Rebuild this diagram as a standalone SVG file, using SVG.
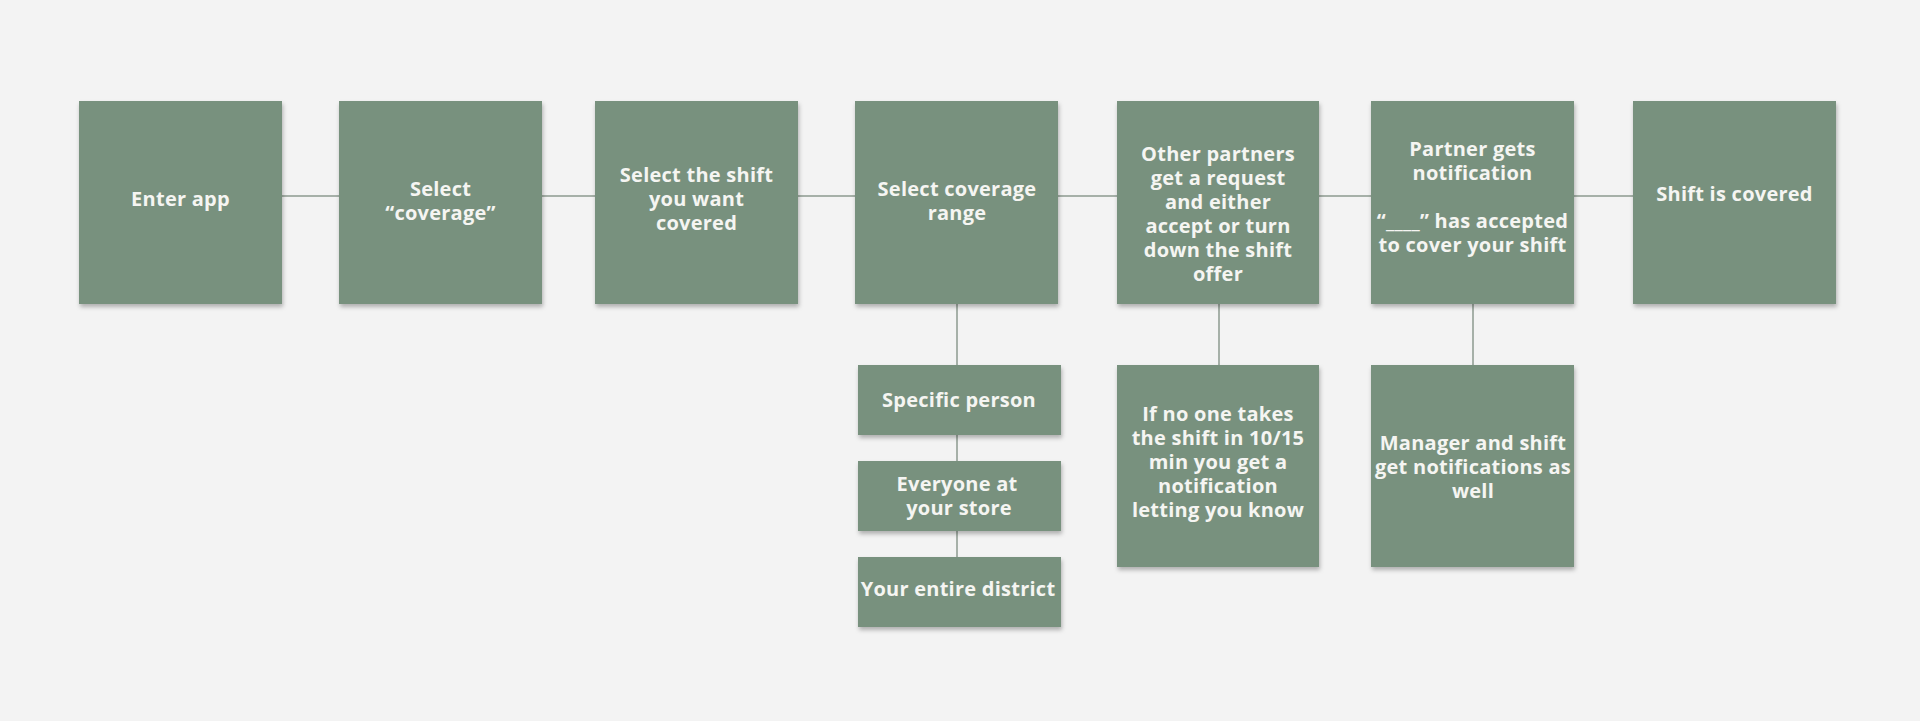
<svg xmlns="http://www.w3.org/2000/svg" width="1920" height="721" viewBox="0 0 1920 721">
<defs>
<filter id="sh" x="-10%" y="-10%" width="130%" height="130%">
<feDropShadow dx="1" dy="3" stdDeviation="2" flood-color="#000" flood-opacity="0.28"/>
</filter>
<style>
.box{fill:#78917e;filter:url(#sh);}
.t{font-family:"Open Sans","Liberation Sans",sans-serif;font-weight:700;font-size:20px;letter-spacing:0.25px;fill:#f5f5f2;text-anchor:middle;}
.c{stroke:#8c9a8f;stroke-width:1.5;fill:none;}
</style>
</defs>
<rect width="1920" height="721" fill="#f3f3f3"/>
<g id="connectors">
<line class="c" x1="282" y1="196" x2="339" y2="196"/>
<line class="c" x1="542" y1="196" x2="595" y2="196"/>
<line class="c" x1="798" y1="196" x2="855" y2="196"/>
<line class="c" x1="1058" y1="196" x2="1117" y2="196"/>
<line class="c" x1="1319" y1="196" x2="1371" y2="196"/>
<line class="c" x1="1574" y1="196" x2="1633" y2="196"/>
<line class="c" x1="957" y1="304" x2="957" y2="365"/>
<line class="c" x1="957" y1="435" x2="957" y2="461"/>
<line class="c" x1="957" y1="531" x2="957" y2="557"/>
<line class="c" x1="1219" y1="304" x2="1219" y2="365"/>
<line class="c" x1="1473" y1="304" x2="1473" y2="365"/>
</g>
<g id="n1"><rect class="box" x="79" y="101" width="203" height="203"/>
<text class="t" x="180.5" y="205.5">Enter app</text></g>
<g id="n2"><rect class="box" x="339" y="101" width="203" height="203"/>
<text class="t" x="440.5" y="195.5">Select</text><text class="t" x="440.5" y="219.5">“coverage”</text></g>
<g id="n3"><rect class="box" x="595" y="101" width="203" height="203"/>
<text class="t" x="696.5" y="181.5">Select the shift</text><text class="t" x="696.5" y="205.5">you want</text><text class="t" x="696.5" y="229.5">covered</text></g>
<g id="n4"><rect class="box" x="855" y="101" width="203" height="203"/>
<text class="t" x="957" y="196">Select coverage</text><text class="t" x="957" y="220">range</text></g>
<g id="n5"><rect class="box" x="1117" y="101" width="202" height="203"/>
<text class="t" x="1218" y="161">Other partners</text><text class="t" x="1218" y="185">get a request</text><text class="t" x="1218" y="209">and either</text><text class="t" x="1218" y="233">accept or turn</text><text class="t" x="1218" y="257">down the shift</text><text class="t" x="1218" y="281">offer</text></g>
<g id="n6"><rect class="box" x="1371" y="101" width="203" height="203"/>
<text class="t" x="1472.5" y="155.5">Partner gets</text><text class="t" x="1472.5" y="179.5">notification</text><text class="t" x="1472.5" y="227.5">“____” has accepted</text><text class="t" x="1472.5" y="251.5">to cover your shift</text></g>
<g id="n7"><rect class="box" x="1633" y="101" width="203" height="203"/>
<text class="t" x="1734.5" y="200.5">Shift is covered</text></g>
<g id="n8"><rect class="box" x="858" y="365" width="203" height="70"/>
<text class="t" x="959" y="407">Specific person</text></g>
<g id="n9"><rect class="box" x="858" y="461" width="203" height="70"/>
<text class="t" x="957" y="491">Everyone at</text><text class="t" x="959" y="515">your store</text></g>
<g id="n10"><rect class="box" x="858" y="557" width="203" height="70"/>
<text class="t" x="958" y="596">Your entire district</text></g>
<g id="n11"><rect class="box" x="1117" y="365" width="202" height="202"/>
<text class="t" x="1218" y="421">If no one takes</text><text class="t" x="1218" y="445">the shift in 10/15</text><text class="t" x="1218" y="469">min you get a</text><text class="t" x="1218" y="493">notification</text><text class="t" x="1218" y="517">letting you know</text></g>
<g id="n12"><rect class="box" x="1371" y="365" width="203" height="202"/>
<text class="t" x="1473" y="450">Manager and shift</text><text class="t" x="1473" y="474">get notifications as</text><text class="t" x="1473" y="498">well</text></g>
</svg>
